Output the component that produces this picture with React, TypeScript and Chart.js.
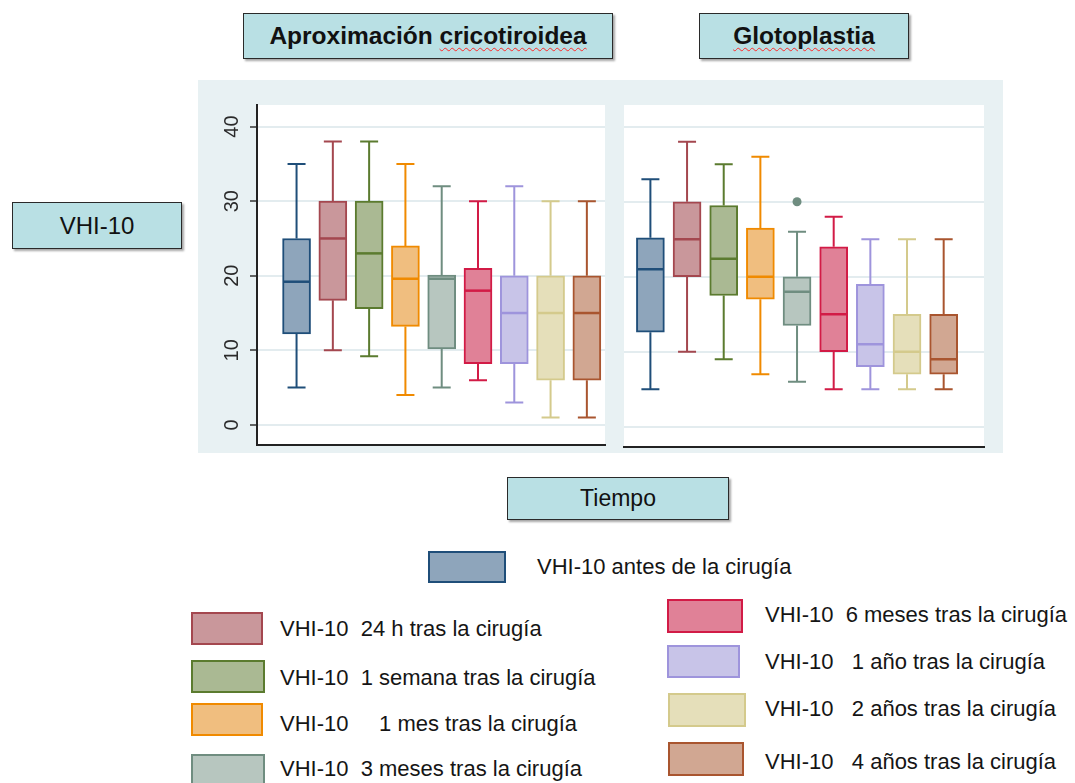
import React, { useEffect, useRef } from "react";
import { Chart, registerables } from "chart.js";

Chart.register(...registerables);

// ---- Data ----
const legendLabels = [
  "VHI-10 antes de la cirugía",
  "VHI-10  24 h tras la cirugía",
  "VHI-10  1 semana tras la cirugía",
  "VHI-10     1 mes tras la cirugía",
  "VHI-10  3 meses tras la cirugía",
  "VHI-10  6 meses tras la cirugía",
  "VHI-10   1 año tras la cirugía",
  "VHI-10   2 años tras la cirugía",
  "VHI-10   4 años tras la cirugía",
];

const fillColors = ["#8EA5BB", "#C9979B", "#AAB993", "#F0BE7F", "#B7C6BF", "#E08197", "#C8C4E8", "#E5DFBA", "#D1A792"];
const strokeColors = ["#1F4E79", "#A4474F", "#5B7B2F", "#F08A00", "#6F8D80", "#D21B46", "#9E94DC", "#D4CA8C", "#A9552F"];

const positions = [1, 2, 3, 4, 5, 6, 7, 8, 9];
const yTicks = [0, 10, 20, 30, 40];

// Aproximación cricotiroidea
const acMin = [5, 10, 9.2, 4, 5, 6, 3, 1, 1];
const acQ1 = [12.2, 16.7, 15.6, 13.2, 10.2, 8.2, 8.2, 6, 6];
const acMed = [19.2, 25, 23, 19.6, 19.6, 18, 15, 15, 15];
const acQ3 = [25, 30, 30, 24, 20.1, 21, 20, 20, 20];
const acMax = [35, 38, 38, 35, 32, 30, 32, 30, 30];

// Glotoplastia
const glMin = [5, 10, 9, 7, 6, 5, 5, 5, 5];
const glQ1 = [12.6, 20, 17.5, 17, 13.5, 10, 8, 7, 7];
const glMed = [21, 25, 22.4, 20, 18, 15, 11, 10, 9];
const glQ3 = [25.2, 30, 29.5, 26.5, 20, 24, 19, 15, 15];
const glMax = [33, 38, 35, 36, 26, 28, 25, 25, 25];
const glOutX = [5];
const glOutY = [30];

type PanelProps = {
  left: number;
  top: number;
  width: number;
  height: number;
  xMin: number;
  xMax: number;
  yWidth: number;
  pad: { left: number; right: number; top: number; bottom: number };
  showY: boolean;
  mins: number[];
  q1: number[];
  med: number[];
  q3: number[];
  maxs: number[];
  outX: number[];
  outY: number[];
};

function Panel(p: PanelProps) {
  const ref = useRef<HTMLCanvasElement | null>(null);
  useEffect(() => {
    if (!ref.current) return;
    const boxPlugin = {
      id: "boxExtras",
      beforeDraw(chart: any) {
        const { ctx, chartArea } = chart;
        ctx.save();
        ctx.fillStyle = "#FFFFFF";
        ctx.fillRect(chartArea.left, chartArea.top, chartArea.right - chartArea.left, chartArea.bottom - chartArea.top);
        ctx.restore();
      },
      beforeDatasetsDraw(chart: any) {
        const { ctx } = chart;
        const xs = chart.scales.x;
        const ys = chart.scales.y;
        ctx.save();
        ctx.lineWidth = 2;
        ctx.lineCap = "butt";
        positions.forEach((pos, i) => {
          const x = xs.getPixelForValue(pos);
          ctx.strokeStyle = strokeColors[i];
          ctx.beginPath();
          ctx.moveTo(x, ys.getPixelForValue(p.q3[i]));
          ctx.lineTo(x, ys.getPixelForValue(p.maxs[i]));
          ctx.moveTo(x, ys.getPixelForValue(p.q1[i]));
          ctx.lineTo(x, ys.getPixelForValue(p.mins[i]));
          const capHalf = 9;
          const yTop = ys.getPixelForValue(p.maxs[i]);
          const yBot = ys.getPixelForValue(p.mins[i]);
          ctx.moveTo(x - capHalf, yTop);
          ctx.lineTo(x + capHalf, yTop);
          ctx.moveTo(x - capHalf, yBot);
          ctx.lineTo(x + capHalf, yBot);
          ctx.stroke();
        });
        ctx.restore();
      },
      afterDatasetsDraw(chart: any) {
        const { ctx } = chart;
        const ys = chart.scales.y;
        const meta = chart.getDatasetMeta(0);
        ctx.save();
        ctx.lineWidth = 2.5;
        meta.data.forEach((bar: any, i: number) => {
          const y = ys.getPixelForValue(p.med[i]);
          ctx.strokeStyle = strokeColors[i];
          ctx.beginPath();
          ctx.moveTo(bar.x - bar.width / 2 + 1, y);
          ctx.lineTo(bar.x + bar.width / 2 - 1, y);
          ctx.stroke();
        });
        ctx.restore();
      },
      afterDraw(chart: any) {
        if (!p.showY) return;
        const { ctx, chartArea } = chart;
        const ys = chart.scales.y;
        ctx.save();
        ctx.fillStyle = "#2A2A2A";
        ctx.font = '20px "Liberation Sans", Arial, sans-serif';
        ctx.textAlign = "center";
        ctx.textBaseline = "middle";
        yTicks.forEach((v) => {
          const y = ys.getPixelForValue(v);
          ctx.save();
          ctx.translate(chartArea.left - 25, y);
          ctx.rotate(-Math.PI / 2);
          ctx.fillText(String(v), 0, 0);
          ctx.restore();
        });
        ctx.restore();
      },
    };

    const chart = new Chart(ref.current, {
      type: "bar",
      data: {
        datasets: [
          {
            type: "bar",
            data: positions.map((x, i) => ({ x, y: [p.q1[i], p.q3[i]] })) as any,
            backgroundColor: fillColors,
            borderColor: strokeColors,
            borderWidth: 2,
            borderSkipped: false,
            barThickness: 28,
            grouped: false,
          } as any,
          {
            type: "scatter",
            data: p.outX.map((x, i) => ({ x, y: p.outY[i] })),
            backgroundColor: strokeColors[4],
            borderWidth: 0,
            pointRadius: 4.5,
          } as any,
        ],
      },
      options: {
        responsive: false,
        animation: false,
        events: [],
        layout: { padding: p.pad },
        plugins: { legend: { display: false }, tooltip: { enabled: false } },
        scales: {
          x: {
            type: "linear",
            min: p.xMin,
            max: p.xMax,
            offset: false,
            ticks: { display: false },
            grid: { display: false, drawTicks: false, offset: false },
            border: { display: true, color: "#222222", width: 2 },
            afterFit: (s: any) => {
              s.height = 0;
            },
          },
          y: {
            type: "linear",
            min: -2.7,
            max: 42.9,
            afterBuildTicks: (s: any) => {
              s.ticks = yTicks.map((v) => ({ value: v }));
            },
            ticks: { display: false },
            grid: {
              color: "#E3ECEF",
              lineWidth: 2,
              drawTicks: p.showY,
              tickLength: 7,
              tickColor: "#333333",
              tickWidth: 1.5,
            },
            border: { display: p.showY, color: "#222222", width: 2 },
            afterFit: (s: any) => {
              s.width = p.yWidth;
            },
          },
        },
      } as any,
      plugins: [boxPlugin],
    });
    return () => chart.destroy();
  }, []);
  return (
    <canvas
      ref={ref}
      width={p.width}
      height={p.height}
      style={{ position: "absolute", left: p.left, top: p.top, width: p.width, height: p.height }}
    />
  );
}

const FONT = '"Liberation Sans", Arial, Helvetica, sans-serif';

function LabelBox(props: { x: number; y: number; w: number; h: number; children: React.ReactNode; bold?: boolean; size: number }) {
  return (
    <div
      style={{
        position: "absolute",
        left: props.x,
        top: props.y,
        width: props.w,
        height: props.h,
        boxSizing: "border-box",
        background: "#B9E0E4",
        border: "1.5px solid #2A2A2A",
        boxShadow: "2px 2px 2px rgba(0,0,0,0.35)",
        display: "flex",
        alignItems: "center",
        justifyContent: "center",
        fontSize: props.size,
        fontWeight: props.bold ? "bold" : "normal",
        color: "#111111",
        whiteSpace: "pre",
      }}
    >
      {props.children}
    </div>
  );
}

const squiggle: React.CSSProperties = {
  textDecorationLine: "underline",
  textDecorationStyle: "wavy",
  textDecorationColor: "#FF2A2A",
  textDecorationThickness: "1px",
  textUnderlineOffset: "3px",
};

type LegendPos = { sx: number; sy: number; sw: number; sh: number; tx: number; cy: number };
const legendPos: LegendPos[] = [
  { sx: 428, sy: 551, sw: 78, sh: 32, tx: 537, cy: 567 },
  { sx: 191, sy: 612, sw: 72, sh: 33, tx: 280, cy: 629 },
  { sx: 191, sy: 660, sw: 74, sh: 33, tx: 280, cy: 678 },
  { sx: 191, sy: 703, sw: 72, sh: 33, tx: 280, cy: 724 },
  { sx: 191, sy: 754, sw: 74, sh: 33, tx: 280, cy: 769 },
  { sx: 667, sy: 599, sw: 76, sh: 34, tx: 765, cy: 615 },
  { sx: 667, sy: 645, sw: 73, sh: 33, tx: 765, cy: 662 },
  { sx: 668, sy: 693, sw: 78, sh: 34, tx: 765, cy: 709 },
  { sx: 668, sy: 742, sw: 76, sh: 34, tx: 765, cy: 762 },
];

export default function App() {
  return (
    <div
      style={{
        position: "absolute",
        left: 0,
        top: 0,
        width: 1075,
        height: 783,
        background: "#FFFFFF",
        overflow: "hidden",
        fontFamily: FONT,
      }}
    >
      <div style={{ position: "absolute", left: 198, top: 80, width: 805, height: 373, background: "#E8F1F3" }} />
      <Panel
        left={198}
        top={80}
        width={412}
        height={373}
        xMin={-0.09}
        xMax={9.5}
        yWidth={59}
        pad={{ left: 0, right: 5, top: 25, bottom: 8 }}
        showY={true}
        mins={acMin}
        q1={acQ1}
        med={acMed}
        q3={acQ3}
        maxs={acMax}
        outX={[]}
        outY={[]}
      />
      <Panel
        left={612}
        top={80}
        width={391}
        height={373}
        xMin={0.28}
        xMax={10.1}
        yWidth={0}
        pad={{ left: 12, right: 19, top: 25, bottom: 6 }}
        showY={false}
        mins={glMin}
        q1={glQ1}
        med={glMed}
        q3={glQ3}
        maxs={glMax}
        outX={glOutX}
        outY={glOutY}
      />

      <LabelBox x={243} y={13} w={370} h={46} bold size={24.5}>
        <span>Aproximación </span>
        <span style={squiggle}>cricotiroidea</span>
      </LabelBox>
      <LabelBox x={699} y={13} w={210} h={46} bold size={24.5}>
        <span style={squiggle}>Glotoplastia</span>
      </LabelBox>
      <LabelBox x={12} y={202} w={170} h={47} size={24}>
        VHI-10
      </LabelBox>
      <LabelBox x={507} y={477} w={222} h={43} size={23}>
        Tiempo
      </LabelBox>

      {legendLabels.map((label, i) => {
        const lp = legendPos[i];
        return (
          <React.Fragment key={i}>
            <div
              style={{
                position: "absolute",
                left: lp.sx,
                top: lp.sy,
                width: lp.sw,
                height: lp.sh,
                boxSizing: "border-box",
                background: fillColors[i],
                border: `2.5px solid ${strokeColors[i]}`,
              }}
            />
            <div
              style={{
                position: "absolute",
                left: lp.tx,
                top: lp.cy - 14,
                height: 28,
                lineHeight: "28px",
                fontSize: 22,
                color: "#151515",
                whiteSpace: "pre",
              }}
            >
              {label}
            </div>
          </React.Fragment>
        );
      })}
    </div>
  );
}
